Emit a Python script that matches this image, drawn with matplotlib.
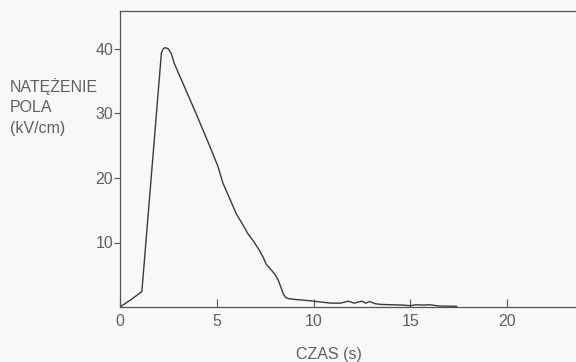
import matplotlib
matplotlib.use("Agg")
import matplotlib.pyplot as plt

# data
time_s = [0.0, 0.6, 1.13, 2.14, 2.25, 2.37, 2.5, 2.65, 2.8, 3.93, 4.63,
          5.06, 5.32, 5.7, 6.0, 6.3, 6.6, 6.9, 7.2, 7.4, 7.56, 7.8, 8.0, 8.17, 8.3, 8.43,
          8.55, 8.7, 9.1, 9.55, 9.7, 10.3, 10.9, 11.4, 11.8, 12.1, 12.5, 12.7, 12.9, 13.2,
          13.5, 14.0, 14.6, 15.0, 15.3, 15.7, 16.0, 16.5, 17.4]
field_kv = [0.0, 1.2, 2.4, 39.4, 40.1, 40.2, 40.0, 39.3, 37.8, 30.0, 25.0,
            21.8, 19.2, 16.6, 14.5, 13.0, 11.4, 10.2, 8.8, 7.7, 6.6, 5.8, 5.1, 4.2, 3.2, 2.1,
            1.5, 1.3, 1.15, 1.05, 1.0, 0.8, 0.6, 0.6, 0.9, 0.6, 0.9, 0.6, 0.85, 0.5,
            0.4, 0.35, 0.3, 0.2, 0.35, 0.3, 0.35, 0.15, 0.1]
x_ticks = [0, 5, 10, 15, 20]
y_ticks = [10, 20, 30, 40]
y_label_lines = ["NATĘŻENIE", "POLA", "(kV/cm)"]
x_label = "CZAS (s)"

plt.rcParams['font.family'] = ['Liberation Sans', 'DejaVu Sans']
bg = '#f8f8f6'
txt = '#606060'
fig = plt.figure(figsize=(5.76, 3.62), dpi=100, facecolor=bg)
ax = fig.add_axes([120/576, 55/362, 475/576, 296/362])
ax.set_facecolor(bg)
ax.plot(time_s, field_kv, color='#3a3a3a', lw=1.0)
ax.set_xlim(0, 475/19.35)
ax.set_ylim(0, 296/6.45)
ax.set_xticks(x_ticks)
ax.set_yticks(y_ticks)
for s in ['left', 'bottom', 'top']:
    ax.spines[s].set_color('#555555')
    ax.spines[s].set_linewidth(0.9)
ax.spines['right'].set_visible(False)
ax.tick_params(axis='x', direction='in', length=6, width=0.8, colors='#555555',
               labelcolor=txt, labelsize=11.5, pad=5)
ax.tick_params(axis='y', direction='out', length=4, width=0.8, colors='#555555',
               labelcolor=txt, labelsize=11.5, pad=1)
# x label and multi-line y label as text
fig.text(329/576, 1 - 355/362, x_label, ha='center', va='center', color=txt, fontsize=11.5)
for i, line in enumerate(y_label_lines):
    fig.text(10/576, 1 - (87 + 20.5*i)/362, line, ha='left', va='center', color=txt, fontsize=11.5)
fig.savefig('out.png', dpi=100, facecolor=bg)
